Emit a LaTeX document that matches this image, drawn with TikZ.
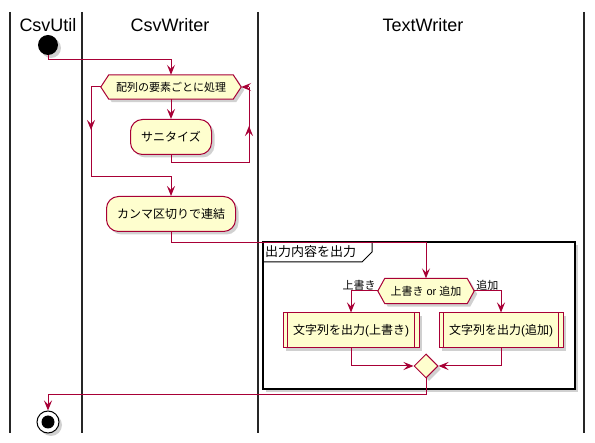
\documentclass[tikz,border=0pt]{standalone}
\usepackage{fontspec}
\setmainfont{Liberation Sans}
\newfontfamily\jp{Noto Sans CJK JP}
\usetikzlibrary{shapes.geometric,shadows,arrows.meta,calc}
\definecolor{plred}{HTML}{A80036}
\definecolor{plyel}{HTML}{FEFECE}
\begin{document}
\begin{tikzpicture}[x=1pt,y=-1pt,
  lane/.style={line width=1.5pt,black!85},
  title/.style={font=\fontsize{18}{20}\selectfont},
  shad/.style={drop shadow={shadow xshift=3pt,shadow yshift=-3pt,opacity=0.3,fill=black!60}},
  act/.style={draw=plred,fill=plyel,line width=1pt,rounded corners=12pt,minimum height=35pt,inner sep=0pt,font=\jp\fontsize{12}{14}\selectfont,shad},
  sub/.style={draw=plred,fill=plyel,line width=1pt,minimum height=35pt,inner sep=0pt,font=\fontsize{12}{14}\selectfont,shad},
  hexshape/.style={draw=plred,fill=plyel,line width=1pt,shad},
  merge/.style={diamond,draw=plred,fill=plyel,line width=1pt,minimum width=24pt,minimum height=24pt,inner sep=0pt,shad},
  conn/.style={draw=plred,line width=1pt},
  arr/.style={conn,-{Stealth[length=10pt,width=8pt,inset=4pt]}},
  lbl/.style={font=\jp\fontsize{11}{12}\selectfont,inner sep=1pt},
]
\useasboundingbox (0,0) rectangle (595,443);
% lanes
\draw[lane] (10,12) -- (10,433);
\draw[lane] (82,12) -- (82,433);
\draw[lane] (258,12) -- (258,433);
\draw[lane] (584,12) -- (584,433);
\node[title] (t1) at (48,25) {CsvUtil};
\node[title] (t2) at (170,25) {CsvWriter};
\node[title] (t3) at (423,25) {TextWriter};
% group frame
\fill[black!60,opacity=0.3] (266,245) rectangle (578,392);
\draw[line width=1.5pt,fill=white] (263,242) rectangle (575,389);
\draw[line width=1pt] (263,262) -- (362,262) -- (372,252) -- (372,242);
\node[font=\jp\fontsize{13}{14}\selectfont,anchor=west,inner sep=0pt] (gt) at (265,252) {出力内容を出力};
% start
\node[circle,fill=black,minimum size=20pt,inner sep=0pt,shad] (start) at (48,45) {};
% hexagon 1
\node[inner sep=0pt,minimum width=124pt,minimum height=24pt] (hex) at (171,87) {};
\path[hexshape] (hex.north west) -- (hex.north east) -- ($(hex.east)+(8,0)$) -- (hex.south east) -- (hex.south west) -- ($(hex.west)+(-8,0)$) -- cycle;
\node[lbl] (hext) at (171,87) {配列の要素ごとに処理};
\coordinate (hexW) at ($(hex.west)+(-8,0)$);
\coordinate (hexE) at ($(hex.east)+(8,0)$);
% actions
\node[act,minimum width=81pt] (san) at (171,137) {サニタイズ};
\node[act,minimum width=129pt] (kan) at (171,214) {カンマ区切りで連結};
% hexagon 2
\node[inner sep=0pt,minimum width=82pt,minimum height=25pt] (dec) at (426,291) {};
\path[hexshape] (dec.north west) -- (dec.north east) -- ($(dec.east)+(7,0)$) -- (dec.south east) -- (dec.south west) -- ($(dec.west)+(-7,0)$) -- cycle;
\node[font=\fontsize{11}{12}\selectfont,inner sep=0pt] (dect) at (426,291) {{\jp 上書き} or {\jp 追加}};
\coordinate (decW) at ($(dec.west)+(-7,0)$);
\coordinate (decE) at ($(dec.east)+(7,0)$);
\node[lbl,anchor=south east] (lu) at ($(decW)+(-1,1)$) {上書き};
\node[lbl,anchor=south west] (la) at ($(decE)+(1,1)$) {追加};
% sub boxes
\node[sub,minimum width=136pt] (bl) at (351,330.5) {{\jp 文字列を出力}({\jp 上書き})};
\node[sub,minimum width=124pt] (br) at (501,330.5) {{\jp 文字列を出力}({\jp 追加})};
\foreach \b in {bl,br}{
  \draw[plred,line width=1pt] ([xshift=5pt]\b.north west) -- ([xshift=5pt]\b.south west);
  \draw[plred,line width=1pt] ([xshift=-5pt]\b.north east) -- ([xshift=-5pt]\b.south east);
}
\node[merge] (mg) at (426,366) {};
% end
\node[circle,draw=black,line width=1pt,fill=white,minimum size=22pt,inner sep=0pt,shad] (stop) at (48,422) {};
\node[circle,fill=black,minimum size=13pt,inner sep=0pt] (stopin) at (48,422) {};
% connectors
\draw[arr] (start.south) |- (171,60) -- (hex.north -| 171,0);
\draw[arr] (hex.south) -- (san.north);
\draw[conn] (san.south) -- (171,163) -| (249,87) coordinate (re);
\draw[arr] (249,163) -- (249,126);
\draw[arr] (re) -- (hexE);
\draw[arr] (hexW) -| (91,130);
\draw[arr] (91,120) |- (171,177) -- (kan.north);
\draw[arr] (kan.south) |- (426,243) -- (dec.north);
\draw[arr] (decW) -| (bl.north);
\draw[arr] (decE) -| (br.north);
\draw[arr] (bl.south) |- (mg.west);
\draw[arr] (br.south) |- (mg.east);
\draw[arr] (mg.south) |- (48,395) -- (stop.north);
\end{tikzpicture}
\end{document}
